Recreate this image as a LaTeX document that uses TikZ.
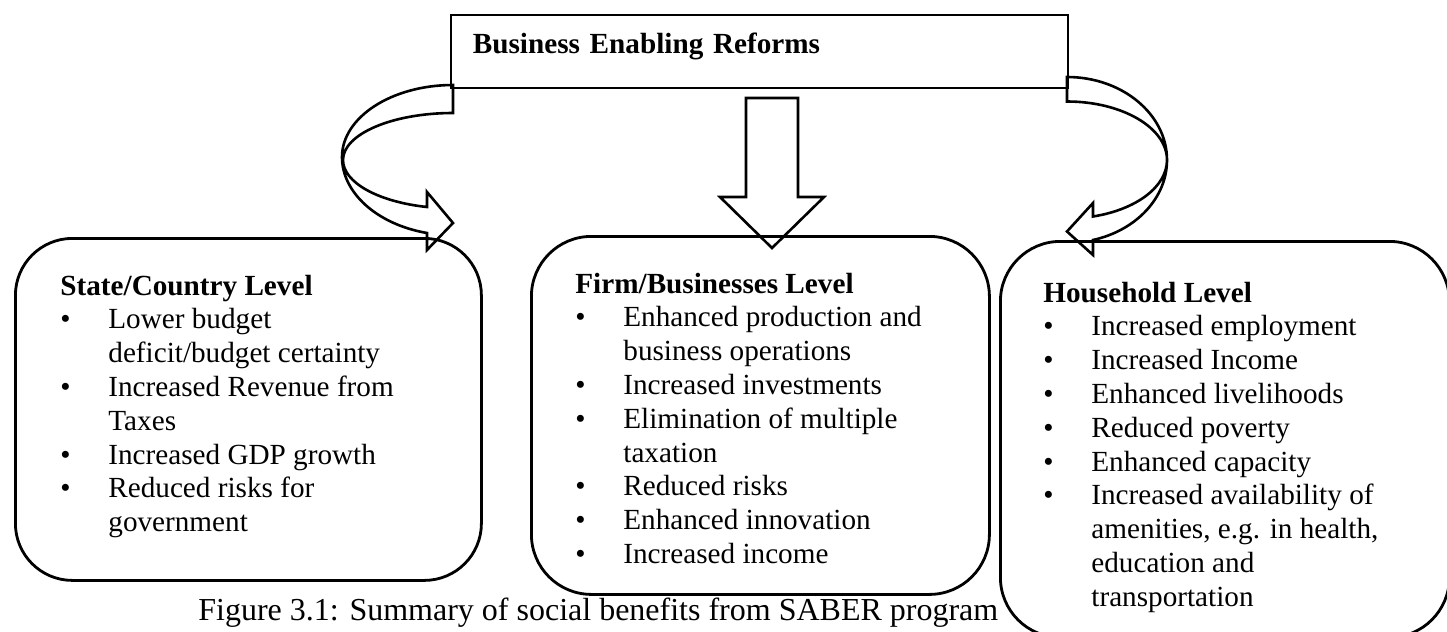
\documentclass[tikz,border=0pt]{standalone}
\usepackage{fontspec}
\setmainfont{Liberation Serif}
\newcommand{\bodyfont}{\fontsize{14.6pt}{16.9pt}\selectfont}
\newcommand{\capfont}{\fontsize{16pt}{18.4pt}\selectfont}
\begin{document}
\begin{tikzpicture}[
    x=0.5pt, y=-0.5pt,
    levelbox/.style={rectangle, draw, line width=1.4pt, anchor=north west, inner sep=0pt},
    reformbox/.style={rectangle, draw, line width=0.9pt, anchor=north west, inner xsep=11pt, inner ysep=0pt,
        text width=286.5pt, align=left, text height=19.5pt, text depth=17pt, font=\bodyfont\bfseries},
    itemlist/.style={anchor=base west, inner sep=0pt, font=\bodyfont},
    caption/.style={anchor=base west, inner sep=0pt, font=\capfont},
    blockarrow/.style={draw, line width=1.3pt}
]
\useasboundingbox (0,0) rectangle (1447,632);

% the three levels
\node[levelbox, minimum width=233pt, minimum height=171pt, rounded corners=28.5pt] (state) at (14,237) {};
\node[levelbox, minimum width=229pt, minimum height=179pt, rounded corners=30pt] (firm) at (530,235) {};
\node[levelbox, minimum width=224.5pt, minimum height=198pt, rounded corners=30pt] (house) at (999,240) {};

\node[itemlist] (statetext) at (60,295) {\begin{tabular}[t]{@{}p{24pt}@{}l@{}}
\multicolumn{2}{@{}l@{}}{\textbf{State/Country Level}}\\
\textbullet & Lower budget\\
 & deficit/budget certainty\\
\textbullet & Increased Revenue from\\
 & Taxes\\
\textbullet & Increased GDP growth\\
\textbullet & Reduced risks for\\
 & government
\end{tabular}};

\node[itemlist] (firmtext) at (575,293) {\begin{tabular}[t]{@{}p{24pt}@{}l@{}}
\multicolumn{2}{@{}l@{}}{\textbf{Firm/Businesses Level}}\\
\textbullet & Enhanced production and\\
 & business operations\\
\textbullet & Increased investments\\
\textbullet & Elimination of multiple\\
 & taxation\\
\textbullet & Reduced risks\\
\textbullet & Enhanced innovation\\
\textbullet & Increased income
\end{tabular}};

\node[itemlist] (housetext) at (1043,302) {\begin{tabular}[t]{@{}p{24pt}@{}l@{}}
\multicolumn{2}{@{}l@{}}{\textbf{Household Level}}\\
\textbullet & Increased employment\\
\textbullet & Increased Income\\
\textbullet & Enhanced livelihoods\\
\textbullet & Reduced poverty\\
\textbullet & Enhanced capacity\\
\textbullet & Increased availability of\\
 & amenities, e.g. in health,\\
 & education and\\
 & transportation
\end{tabular}};

% reforms box and its arrows
\node[reformbox] (reforms) at (450,14) {Business Enabling Reforms};

\draw[blockarrow] (746,98) -- (798,98) -- (798,197) -- (824,197) -- (772,248) -- (720,197) -- (746,197) -- cycle;

\draw[blockarrow] (453,85) -- (453,113)
    .. controls (392.3,113) and (343,134.1) .. (343,160)
    .. controls (343,182.4) and (378,201.8) .. (427,207)
    -- (427,192) -- (453,223) -- (427,250) -- (427,233)
    .. controls (377.3,224.4) and (342,193) .. (342,157)
    .. controls (342,117.3) and (391.7,85) .. (453,85) -- cycle;

\draw[blockarrow] (1067,77) -- (1067,101.5)
    .. controls (1122,101.5) and (1167,127.7) .. (1167,160)
    .. controls (1167,186.4) and (1136.8,209.5) .. (1093,216.5)
    -- (1093,203) -- (1067,231.5) -- (1093,255) -- (1093,240)
    .. controls (1136.8,230.2) and (1167,197.4) .. (1167,160)
    .. controls (1167,114.2) and (1122.2,77) .. (1067,77) -- cycle;

\node[caption] (figcap) at (198,620) {Figure 3.1: Summary of social benefits from SABER program};

\end{tikzpicture}
\end{document}
